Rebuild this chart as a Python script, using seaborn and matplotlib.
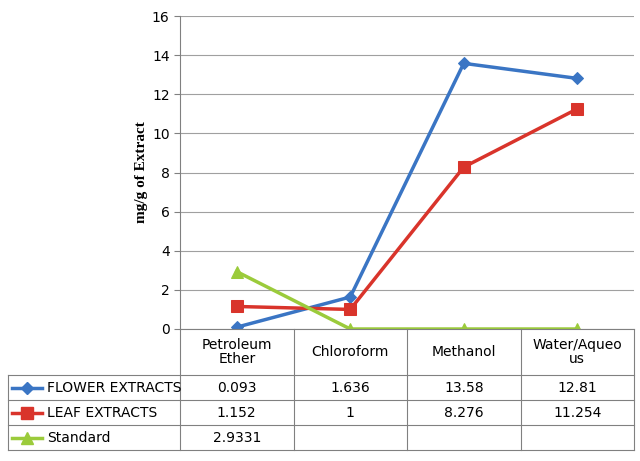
import matplotlib
matplotlib.use("Agg")
import matplotlib.pyplot as plt
import seaborn as sns
import pandas as pd
from matplotlib.lines import Line2D

categories = ["Petroleum\nEther", "Chloroform", "Methanol", "Water/Aqueo\nus"]
series_names = ["FLOWER EXTRACTS", "LEAF EXTRACTS", "Standard"]
flower = [0.093, 1.636, 13.58, 12.81]
leaf = [1.152, 1, 8.276, 11.254]
standard = [2.9331, 0, 0, 0]
flower_lbl = ["0.093", "1.636", "13.58", "12.81"]
leaf_lbl = ["1.152", "1", "8.276", "11.254"]
standard_lbl = ["2.9331", "", "", ""]
yticks = [0, 2, 4, 6, 8, 10, 12, 14, 16]

colors = ["#3A75C4", "#D9342B", "#9BCB3B"]
markers = ["D", "s", "^"]
msizes = [6, 9, 9]

rows = []
for name, vals in zip(series_names, [flower, leaf, standard]):
    for i, v in enumerate(vals):
        rows.append({"x": i, "y": v, "series": name})
df = pd.DataFrame(rows)

W, H = 640, 461
fig = plt.figure(figsize=(6.4, 4.61), dpi=100)
L, R, B, T = 180, 634, 329, 16
ax = fig.add_axes([L / W, 1 - B / H, (R - L) / W, (B - T) / H])
for name, c, m, s in zip(series_names, colors, markers, msizes):
    sns.lineplot(data=df[df.series == name], x="x", y="y", ax=ax, color=c,
                 marker=m, markersize=s, markeredgecolor=c, linewidth=2.5,
                 legend=False)
ax.set_xlim(-0.5, 3.5)
ax.set_ylim(0, 16)
ax.set_yticks(yticks)
ax.set_xticks([])
ax.set_xlabel("")
ax.set_ylabel("")
ax.grid(axis="y", color="#A0A0A0", linewidth=0.8)
ax.set_axisbelow(True)
for sp in ["top", "right"]:
    ax.spines[sp].set_visible(False)
ax.spines["left"].set_color("#808080")
ax.spines["bottom"].set_color("#808080")
ax.tick_params(axis="y", length=4, colors="black", labelsize=10)
ax.tick_params(axis="y", color="#808080")

fig.text(141 / W, 1 - 172 / H, "mg/g of Extract", rotation=90, ha="center",
         va="center", fontfamily="Liberation Serif", fontweight="bold", fontsize=11)

def fx(x): return x / W
def fy(y): return 1 - y / H

lc = "#808080"
colx = [L + i * (R - L) / 4 for i in range(5)]
for x in colx:
    fig.add_artist(Line2D([fx(x), fx(x)], [fy(329), fy(450)], color=lc, lw=0.8))
fig.add_artist(Line2D([fx(8), fx(8)], [fy(375), fy(450)], color=lc, lw=0.8))
for y in [375, 400, 425, 450]:
    fig.add_artist(Line2D([fx(8), fx(R)], [fy(y), fy(y)], color=lc, lw=0.8))

for i, cat in enumerate(categories):
    cx = (colx[i] + colx[i + 1]) / 2
    fig.text(fx(cx), fy(352), cat, ha="center", va="center", fontsize=10,
             linespacing=1.0)

row_y = [387.5, 412.5, 437.5]
for r, (name, lbls, c, m, s) in enumerate(zip(series_names,
        [flower_lbl, leaf_lbl, standard_lbl], colors, markers, msizes)):
    y = row_y[r]
    fig.add_artist(Line2D([fx(12), fx(42)], [fy(y), fy(y)], color=c, lw=2.5))
    fig.add_artist(Line2D([fx(27)], [fy(y)], color=c, marker=m,
                          markersize=s, markeredgecolor=c))
    fig.text(fx(47), fy(y), name, ha="left", va="center", fontsize=10)
    for i, t in enumerate(lbls):
        cx = (colx[i] + colx[i + 1]) / 2
        fig.text(fx(cx), fy(y), t, ha="center", va="center", fontsize=10)

fig.savefig("out.png", dpi=100)
